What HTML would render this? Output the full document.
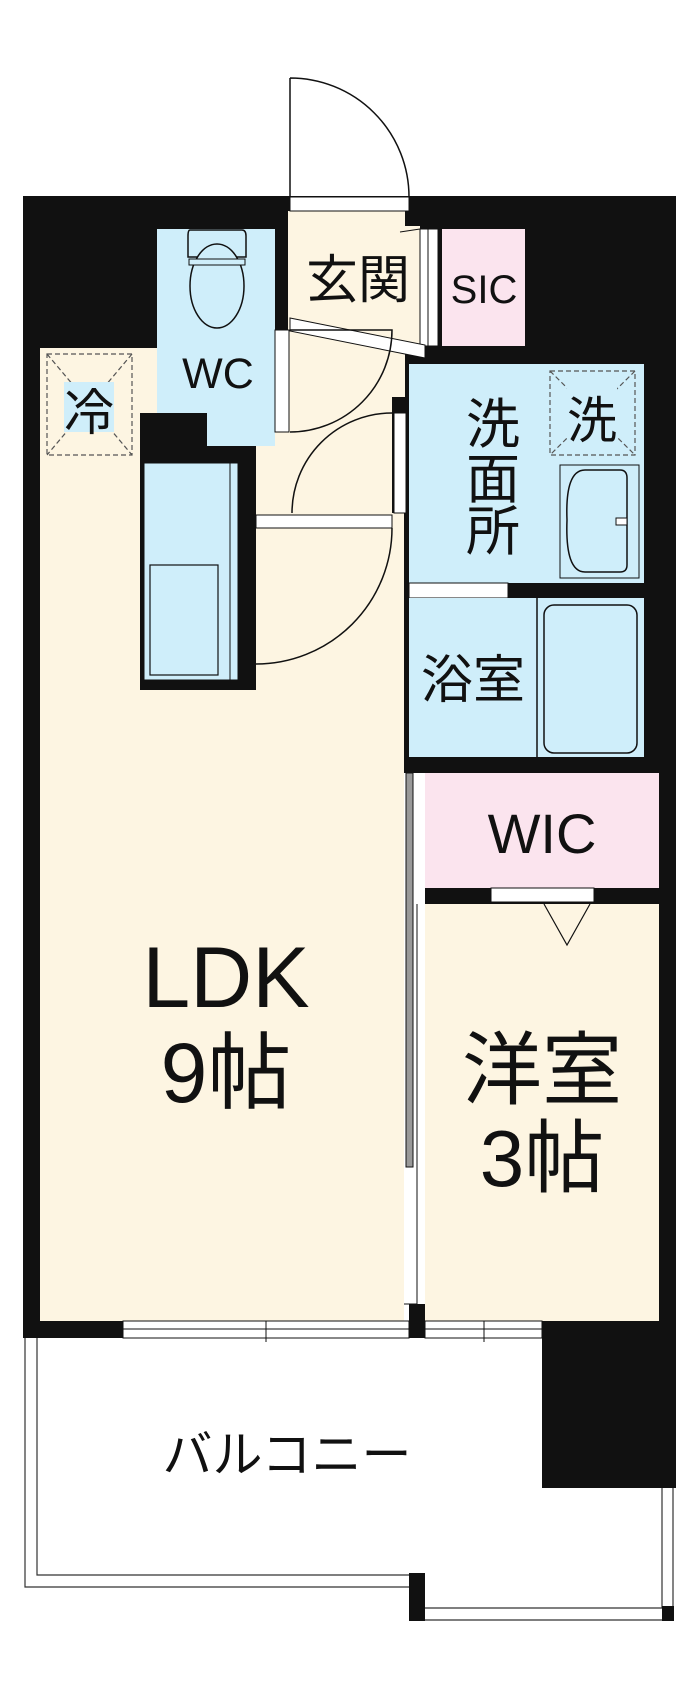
<!DOCTYPE html>
<html><head><meta charset="utf-8"><style>
html,body{margin:0;padding:0;background:#fff}
svg{display:block}
text{font-family:"Liberation Sans","Noto Sans CJK JP",sans-serif;fill:#111}
</style></head><body>
<svg width="700" height="1694" viewBox="0 0 700 1694" xmlns="http://www.w3.org/2000/svg">
<!-- entrance door -->
<path d="M290 78 L290 197 M290 78 A119 119 0 0 1 409 197" fill="none" stroke="#111" stroke-width="1.5"/>
<!-- outer black -->
<rect x="23" y="196" width="653" height="1142" fill="#111"/>
<!-- LDK -->
<rect x="40" y="348" width="364" height="973" fill="#fdf5e2"/>
<!-- kitchen block -->
<rect x="140" y="413" width="150" height="277" fill="#111"/>
<rect x="144" y="463" width="94" height="217" fill="#cfeefa" stroke="#111" stroke-width="1"/>
<rect x="230" y="463" width="8" height="217" fill="#cfeefa" stroke="#111" stroke-width="1"/>
<rect x="150" y="565" width="68" height="110" fill="none" stroke="#111" stroke-width="1.2"/>
<!-- corridor -->
<rect x="256" y="413" width="136" height="277" fill="#fdf5e2"/>
<rect x="256" y="690" width="148" height="90" fill="#fdf5e2"/>
<!-- genkan -->
<rect x="288" y="211" width="117" height="202" fill="#fdf5e2"/>
<rect x="405" y="226" width="15" height="120" fill="#fdf5e2"/>
<rect x="290" y="197" width="119" height="14" fill="#fff" stroke="#111" stroke-width="1"/>
<!-- WC -->
<path d="M157 229 H275 V446 H207 V413 H157 Z" fill="#cfeefa"/>
<rect x="275" y="330" width="14" height="102" fill="#fff" stroke="#111" stroke-width="1"/>
<!-- toilet -->
<path d="M190 230 H242 Q246 230 246 236 V257 H188 V236 Q188 230 190 230 Z" fill="#cfeefa" stroke="#111" stroke-width="1.5"/>
<ellipse cx="217" cy="286" rx="27" ry="42" fill="#cfeefa" stroke="#111" stroke-width="1.5"/>
<rect x="189" y="259" width="56" height="6" fill="#cfeefa" stroke="#111" stroke-width="1"/>
<!-- SIC -->
<rect x="442" y="229" width="83" height="117" fill="#fbe4ee"/>
<rect x="420" y="229" width="18" height="117" fill="#fff" stroke="#111" stroke-width="1"/>
<line x1="428" y1="229" x2="428" y2="346" stroke="#111" stroke-width="1"/>
<!-- step diagonal -->
<path d="M290 318 L425 345 L425 358 L290 331 Z" fill="#fff" stroke="#111" stroke-width="1"/>
<line x1="400" y1="232" x2="420" y2="229" stroke="#111" stroke-width="1"/>
<!-- senmenjo -->
<rect x="409" y="364" width="235" height="219" fill="#cfeefa"/>
<rect x="392" y="397" width="17" height="116" fill="#111"/>
<rect x="394" y="413" width="12" height="100" fill="#fff" stroke="#111" stroke-width="1"/>
<rect x="409" y="583" width="99" height="15" fill="#fff" stroke="#111" stroke-width="1"/>
<!-- bath -->
<rect x="409" y="598" width="235" height="159" fill="#cfeefa"/>
<line x1="537" y1="598" x2="537" y2="757" stroke="#111" stroke-width="1.5"/>
<rect x="544" y="605" width="93" height="148" rx="10" fill="#cfeefa" stroke="#111" stroke-width="1.5"/>
<!-- sink -->
<rect x="560" y="465" width="79" height="113" fill="#cfeefa" stroke="#111" stroke-width="1"/>
<path d="M585 470 H620 Q627 470 627 478 V565 Q627 572 620 572 H585 Q565 572 567 520 Q565 470 585 470 Z" fill="#cfeefa" stroke="#111" stroke-width="1.5"/>
<rect x="616" y="518" width="11" height="7" fill="#fff" stroke="#111" stroke-width="1"/>
<!-- dashed boxes -->
<g fill="none" stroke="#555" stroke-width="1.2" stroke-dasharray="5,3">
<rect x="47" y="354" width="85" height="101"/>
<line x1="47" y1="354" x2="132" y2="455"/><line x1="132" y1="354" x2="47" y2="455"/>
<rect x="550" y="371" width="85" height="84"/>
<line x1="550" y1="371" x2="635" y2="455"/><line x1="635" y1="371" x2="550" y2="455"/>
</g>
<rect x="64" y="382" width="50" height="50" fill="#cfeefa"/>
<rect x="567" y="387" width="50" height="54" fill="#cfeefa"/>
<!-- corridor doors -->
<rect x="256" y="515" width="136" height="13" fill="#fff" stroke="#111" stroke-width="1"/>
<g fill="none" stroke="#111" stroke-width="1.5">
<path d="M290 330 H392 A102 102 0 0 1 290 432"/>
<path d="M392 413 A100 100 0 0 0 292 513"/>
<path d="M392 528 A136 136 0 0 1 256 664"/>
</g>
<!-- WIC -->
<rect x="425" y="773" width="234" height="115" fill="#fbe4ee"/>
<rect x="491" y="888" width="103" height="14" fill="#fff" stroke="#111" stroke-width="1"/>
<!-- youshitsu -->
<rect x="425" y="904" width="234" height="417" fill="#fdf5e2"/>
<path d="M544 904 L567 945 L590 904" fill="none" stroke="#111" stroke-width="1.2"/>
<!-- divider -->
<rect x="404" y="773" width="21" height="548" fill="#fff"/>
<rect x="406" y="773" width="7" height="394" fill="#999" stroke="#111" stroke-width="1"/>
<line x1="417" y1="904" x2="417" y2="1304" stroke="#111" stroke-width="1"/>
<line x1="404" y1="1304" x2="417" y2="1304" stroke="#111" stroke-width="1"/>
<rect x="409" y="1304" width="16" height="34" fill="#111"/>
<!-- windows -->
<rect x="123" y="1321" width="286" height="17" fill="#fff" stroke="#111" stroke-width="1"/>
<line x1="123" y1="1329" x2="409" y2="1329" stroke="#111" stroke-width="1"/>
<line x1="266" y1="1321" x2="266" y2="1342" stroke="#111" stroke-width="1"/>
<rect x="425" y="1321" width="117" height="17" fill="#fff" stroke="#111" stroke-width="1"/>
<line x1="425" y1="1329" x2="542" y2="1329" stroke="#111" stroke-width="1"/>
<line x1="484" y1="1321" x2="484" y2="1342" stroke="#111" stroke-width="1"/>
<!-- balcony -->
<rect x="542" y="1321" width="134" height="167" fill="#111"/>
<g fill="none" stroke="#333" stroke-width="1.2">
<path d="M25 1338 V1587 H409"/><path d="M37 1338 V1575 H409"/>
<path d="M425 1608 H662 V1488"/><path d="M425 1620 H673 V1488"/>
</g>
<rect x="409" y="1573" width="16" height="48" fill="#111"/>
<rect x="662" y="1606" width="12" height="15" fill="#111"/>
<!-- labels -->
<text x="358" y="298" font-size="52" text-anchor="middle">玄関</text>
<text x="484" y="303" font-size="40" text-anchor="middle">SIC</text>
<text x="218" y="388" font-size="43" text-anchor="middle">WC</text>
<text x="89" y="430" font-size="50" text-anchor="middle">冷</text>
<text x="592" y="438" font-size="50" text-anchor="middle">洗</text>
<text x="493" y="443" font-size="54" text-anchor="middle">洗</text>
<text x="493" y="498" font-size="54" text-anchor="middle">面</text>
<text x="493" y="550" font-size="54" text-anchor="middle">所</text>
<text x="473" y="698" font-size="52" text-anchor="middle">浴室</text>
<text x="542" y="853" font-size="56" text-anchor="middle">WIC</text>
<text x="226" y="1007" font-size="86" text-anchor="middle">LDK</text>
<text x="226" y="1102" font-size="84" text-anchor="middle">9帖</text>
<text x="542" y="1098" font-size="80" text-anchor="middle">洋室</text>
<text x="542" y="1186" font-size="80" text-anchor="middle">3帖</text>
<text x="287" y="1472" font-size="50" text-anchor="middle">バルコニー</text>
</svg>
</body></html>
